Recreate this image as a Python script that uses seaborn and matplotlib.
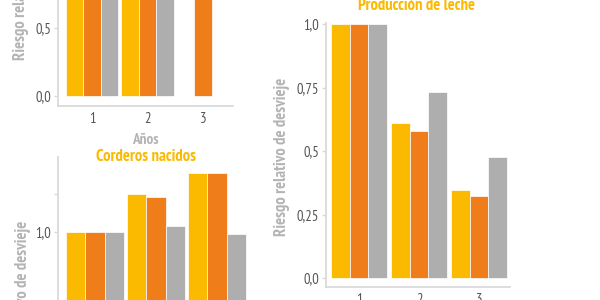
import numpy as np
import pandas as pd
import matplotlib
matplotlib.use("Agg")
import matplotlib.pyplot as plt
import seaborn as sns

# ---------------- data ----------------
years = ["1", "2", "3"]
series = ["Serie A", "Serie B", "Serie C"]

# top-left panel (only lower part visible)
top_a = [1.00, 0.90, np.nan]
top_b = [1.00, 0.88, 1.10]
top_c = [1.00, 0.92, np.nan]

# Corderos nacidos
cord_a = [1.00, 1.50, 1.78]
cord_b = [1.00, 1.46, 1.78]
cord_c = [1.00, 1.08, 0.98]

# Producción de leche
leche_a = [1.00, 0.61, 0.346]
leche_b = [1.00, 0.579, 0.324]
leche_c = [1.00, 0.733, 0.478]

colors = ["#FBBA00", "#EE7D1A", "#AEAEAE"]

title_cord = "Corderos nacidos"
title_leche = "Producción de leche"
ylab = "Riesgo relativo de desvieje"
xlab = "Años"

# ---------------- style ----------------
sns.set_theme(style="white")
plt.rcParams["font.family"] = ["PT Sans Narrow", "Fira Sans Condensed", "DejaVu Sans"]

W, H = 600, 300
fig = plt.figure(figsize=(6, 3), dpi=100)

def rect(L, R, B, T):
    return [L / W, 1 - B / H, (R - L) / W, (B - T) / H]

def frame(a, b, c):
    rows = []
    for vals, s in zip((a, b, c), series):
        for y, v in zip(years, vals):
            rows.append({"Año": y, "serie": s, "valor": v})
    return pd.DataFrame(rows)

SPINE = "#DADADA"
TICKC = "#555555"
LABC = "#B4B4B4"
FS_TICK = 10.5
FS_LAB = 12
FS_TITLE = 12

def panel(L, R, B, T, c0, s, v0, y0, v1, y1, df, width, yticks, yticklabels):
    ax = fig.add_axes(rect(L, R, B, T))
    sns.barplot(data=df, x="Año", y="valor", hue="serie", order=years,
                hue_order=series, palette=colors, saturation=1, width=width, ax=ax,
                edgecolor="white", linewidth=0.5, legend=False, errorbar=None)
    ppu = (y0 - y1) / (v1 - v0)
    ax.set_ylim(v0 + (y0 - B) / ppu, v0 + (y0 - T) / ppu)
    ax.set_xlim((L - c0) / s, (R - c0) / s)
    ax.set_yticks(yticks)
    ax.set_yticklabels(yticklabels)
    for sp in ["top", "right"]:
        ax.spines[sp].set_visible(False)
    for sp in ["left", "bottom"]:
        ax.spines[sp].set_color(SPINE)
        ax.spines[sp].set_linewidth(1.3)
    ax.tick_params(axis="y", length=3, width=1, color=SPINE, pad=2,
                   labelsize=FS_TICK, labelcolor=TICKC, left=True)
    ax.tick_params(axis="x", length=0, pad=4, labelsize=FS_TICK, labelcolor=TICKC)
    ax.set_xlabel("")
    ax.set_ylabel("")
    return ax

# top-left panel
ax1 = panel(58, 233, 106, -110, 92, 55.5, 0.0, 96, 0.5, 28,
            frame(top_a, top_b, top_c), 0.95,
            [0.0, 0.5, 1.0, 1.5], ["0,0", "0,5", "1,0", "1,5"])
ax1.set_xlabel(xlab, fontsize=11, color=LABC, fontweight="bold")
ax1.xaxis.set_label_coords(145 / W, 1 - 133 / H, transform=fig.transFigure)
ax1.set_ylabel(ylab, fontsize=FS_LAB, color=LABC, fontweight="bold")
ax1.yaxis.set_label_coords(29 / W, 1 - (-19) / H, transform=fig.transFigure)

# bottom-left panel: Corderos nacidos
ax2 = panel(58, 252, 318, 157, 95, 61, 1.0, 232, 1.5, 194,
            frame(cord_a, cord_b, cord_c), 0.95,
            [1.0, 1.5], ["1,0", ""])
ax2.set_ylabel(ylab, fontsize=FS_LAB, color=LABC, fontweight="bold")
ax2.yaxis.set_label_coords(31 / W, 1 - 300 / H, transform=fig.transFigure)
fig.text(146 / W, 1 - 157 / H, title_cord, ha="center", va="center",
         fontsize=FS_TITLE, color="#FBBA00", fontweight="bold")

# right panel: Producción de leche
ax3 = panel(326, 510, 287, 23, 359, 60, 0.0, 278, 1.0, 24,
            frame(leche_a, leche_b, leche_c), 0.93,
            [0.0, 0.25, 0.5, 0.75, 1.0], ["0,0", "0,25", "0,5", "0,75", "1,0"])
ax3.set_ylabel(ylab, fontsize=FS_LAB, color=LABC, fontweight="bold")
ax3.yaxis.set_label_coords(290 / W, 1 - 157 / H, transform=fig.transFigure)
fig.text(416 / W, 1 - 6 / H, title_leche, ha="center", va="center",
         fontsize=FS_TITLE, color="#FBBA00", fontweight="bold")

fig.savefig("out.png", dpi=100)
